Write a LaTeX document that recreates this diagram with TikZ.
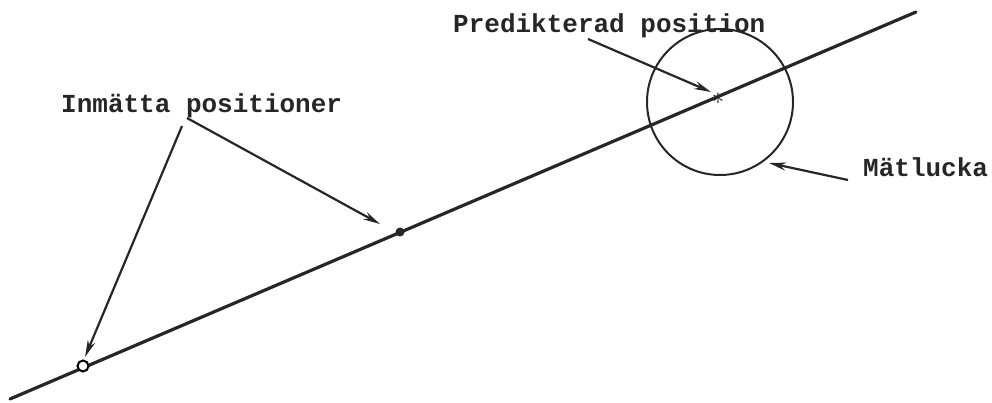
\documentclass[tikz,border=0pt]{standalone}
\usepackage{fontspec}
\setmonofont{Liberation Mono}
\usetikzlibrary{arrows.meta}
\begin{document}
\begin{tikzpicture}[x=1pt,y=-1pt,
  lbl/.style={font=\ttfamily\bfseries\fontsize{26}{28}\selectfont, text=black!85, inner sep=0pt, anchor=base west},
  mainline/.style={line width=3.2pt, line cap=round, black!85},
  ptr/.style={line width=2.2pt, black!85, -{Stealth[length=17pt,width=8pt]}},
  ring/.style={line width=2pt, black!85}]
\useasboundingbox (0,0) rectangle (992,403);
% main line
\coordinate (L0) at (10,399);
\coordinate (L1) at (916,12);
\draw[mainline] (L0) -- (L1);
% measured positions
\node[draw, circle, line width=2pt, minimum size=11pt, inner sep=0pt, fill=white] (p1) at (83,366) {};
\node[circle, fill=black!85, minimum size=9pt, inner sep=0pt] (p2) at (400,232) {};
% predicted position
\node[inner sep=0pt, font=\fontsize{30}{30}\selectfont, text=black!85] (pred) at (718,99) {$\ast$};
% gate circle
\node[draw, circle, ring, minimum size=146pt, inner sep=0pt] (gate) at (720,102) {};
% labels
\node[lbl] (tIn) at (61,113) {Inmätta positioner};
\node[lbl] (tPr) at (453,33) {Predikterad position};
\node[lbl] (tMa) at (863,177) {Mätlucka};
% pointer coordinates
\coordinate (s1) at (182,126);
\coordinate (s2) at (187,118);
\coordinate (s3) at (588,39);
\coordinate (s4) at (848,180);
\coordinate (e1) at (85,357);
\coordinate (e2) at (380,224);
\coordinate (e3) at (711,92);
\coordinate (e4) at (769,163);
\draw[ptr] (s1) -- (e1);
\draw[ptr] (s2) -- (e2);
\draw[ptr] (s3) -- (e3);
\draw[ptr] (s4) -- (e4);
\end{tikzpicture}
\end{document}
